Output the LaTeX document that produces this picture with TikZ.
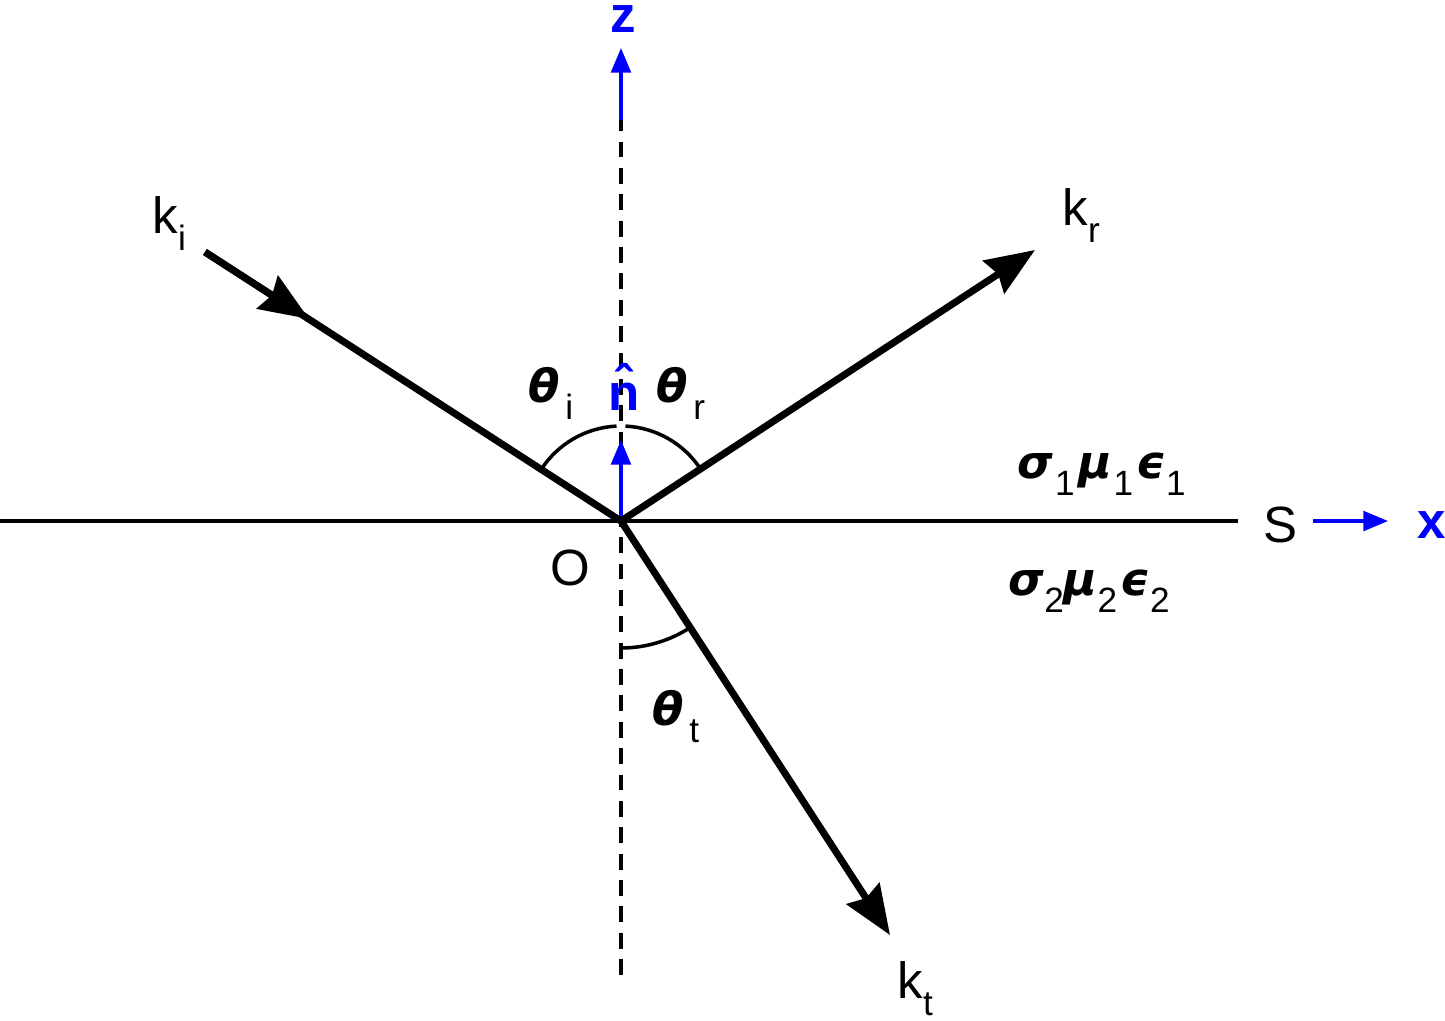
\documentclass[tikz,border=0pt]{standalone}
\usepackage{fontspec}
\setmainfont{Liberation Sans}
\newfontfamily\greekfont{DejaVu Sans}
\usetikzlibrary{arrows.meta}
\newcommand{\gk}[1]{{\greekfont\fontsize{13}{15}\selectfont\bfseries\itshape #1}}
\newcommand{\lowsub}[1]{\raisebox{-5pt}{\fontsize{10}{12}\selectfont #1}}
\tikzset{
  ray/.style={line width=2pt},
  rayhead/.style={ray, -{Stealth[length=14pt,width=11pt,inset=1.5pt]}},
  axis/.style={blue, line width=0.95pt, -{Triangle[length=7pt,width=5.6pt]}},
  thin line/.style={line width=1pt},
  lbl/.style={anchor=base west, inner sep=0pt, font=\fontsize{14.5}{17}\selectfont},
  axlbl/.style={lbl, blue, font=\fontsize{14.5}{17}\selectfont\bfseries},
}
\begin{document}
\begin{tikzpicture}[x=0.01cm,y=0.01cm]
  \useasboundingbox (-621,-499) rectangle (824,521);
  \coordinate (O) at (0,0);
  \coordinate (L) at (-621,0);
  \coordinate (R) at (617,0);
  \coordinate (Ztop) at (0,401);
  \coordinate (Zbot) at (0,-454);
  \coordinate (Zend) at (0,473);
  \coordinate (N) at (0,81);
  \coordinate (Xa) at (692,0);
  \coordinate (Xb) at (767,0);
  \coordinate (Ki) at (-416,269);
  \coordinate (Kimid) at (-312,202);
  \coordinate (Kr) at (414,271);
  \coordinate (Kt) at (269,-414);
  % interface and normal
  \draw[thin line] (L) -- (R);
  \draw[thin line, dash pattern=on 4.5pt off 3pt] (Zbot) -- (Ztop);
  \draw[axis] (Ztop) -- (Zend);
  \draw[axis] (O) -- (N);
  \draw[axis] (Xa) -- (Xb);
  % rays
  \draw[ray] (Ki) -- (O);
  \draw[rayhead] (Ki) -- (Kimid);
  \draw[rayhead] (O) -- (Kr);
  \draw[rayhead] (O) -- (Kt);
  % angles
  \foreach \a/\b in {147.1/92.7, 87.3/32.9}{
    \draw[thin line] (O) ++(\a:95) arc[start angle=\a, end angle=\b, radius=95];
  }
  \draw[thin line] (O) ++(270:127) arc[start angle=270, end angle=303, radius=127];
  % labels
  \node[axlbl] (zlab) at (-11,489) {z};
  \node[axlbl] (xlab) at (796,-17) {x};
  \node[axlbl] (nlab) at (-13,111) {\^{n}};
  \node[lbl] (Slab) at (642,-21) {S};
  \node[lbl] (Olab) at (-71,-64) {O};
  \node[lbl] (kilab) at (-469,288) {k\lowsub{i}};
  \node[lbl] (krlab) at (441,296) {k\lowsub{r}};
  \node[lbl] (ktlab) at (276,-477) {k\lowsub{t}};
  \node[lbl] (thi) at (-93,119) {\gk{θ}\hspace{1.5pt}\lowsub{i}};
  \node[lbl] (thr) at (35,119) {\gk{θ}\hspace{1.5pt}\lowsub{r}};
  \node[lbl] (tht) at (31,-204) {\gk{θ}\hspace{1.5pt}\lowsub{t}};
  \node[lbl] (med1) at (396,43) {\gk{σ}\hspace{0.5pt}\lowsub{1}\hspace{1pt}\gk{μ}\hspace{0.5pt}\lowsub{1}\hspace{1pt}\gk{ϵ}\lowsub{1}};
  \node[lbl] (med2) at (387,-74) {\gk{σ}\lowsub{2}\gk{μ}\lowsub{2}\hspace{1pt}\gk{ϵ}\lowsub{2}};
\end{tikzpicture}
\end{document}
